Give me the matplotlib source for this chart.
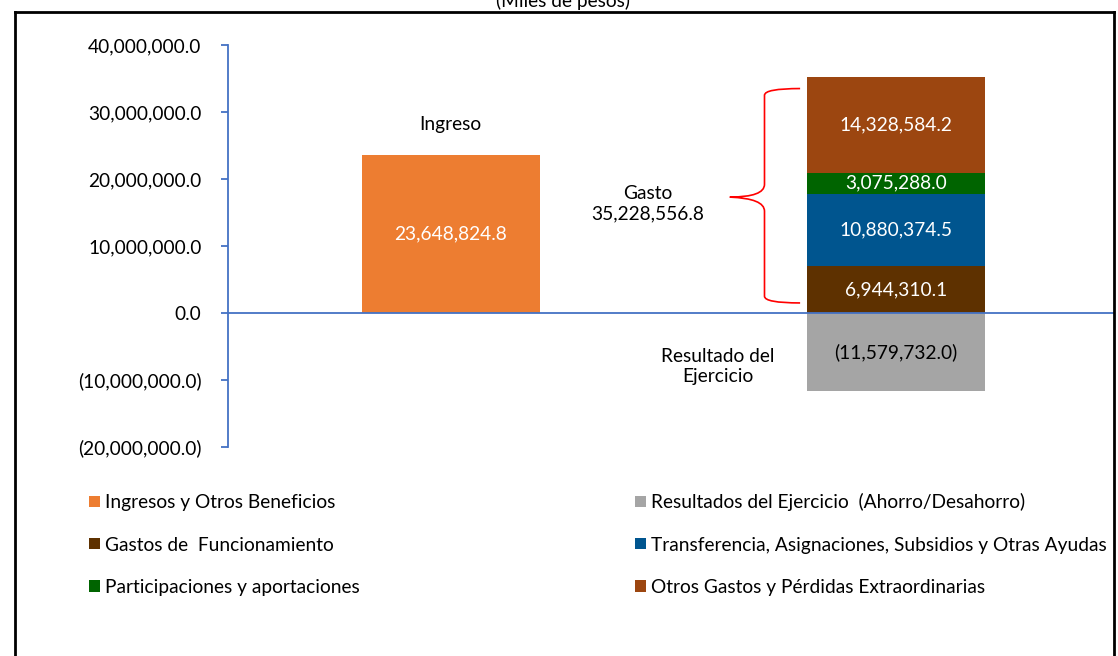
import numpy as np
import matplotlib
matplotlib.use("Agg")
import matplotlib.pyplot as plt
from matplotlib.path import Path
from matplotlib.patches import PathPatch
from matplotlib.lines import Line2D

plt.rcParams['font.family'] = ['Lato', 'DejaVu Sans']

# data (miles de pesos)
categorias = ["Ingreso", "Gasto"]
ingresos = [23648824.8, 0.0]
resultado = [0.0, -11579732.0]
gastos_funcionamiento = [0.0, 6944310.1]
transferencias = [0.0, 10880374.5]
participaciones = [0.0, 3075288.0]
otros_gastos = [0.0, 14328584.2]
total_gasto = 35228556.8

yticks = [-20e6, -10e6, 0, 10e6, 20e6, 30e6, 40e6]

c_ing = "#ED7D31"
c_res = "#A5A5A5"
c_fun = "#5E3100"
c_tra = "#00558F"
c_par = "#006400"
c_otr = "#9C4610"
c_axis = "#4472C4"

def fmt(v):
    s = "{:,.1f}".format(abs(v))
    return "(" + s + ")" if v < 0 else s

fig = plt.figure(figsize=(11.18, 6.56), dpi=100)
W, H = 1118, 656
ax = fig.add_axes([228 / W, 1 - 447 / H, (1114 - 228) / W, (447 - 45) / H])

x = np.arange(len(categorias))
w = 0.4
ax.bar(x, ingresos, w, color=c_ing, label="Ingresos y Otros Beneficios")
ax.bar(x, resultado, w, color=c_res, label="Resultados del Ejercicio  (Ahorro/Desahorro)")
b = np.zeros(2)
ax.bar(x, gastos_funcionamiento, w, bottom=b, color=c_fun, label="Gastos de  Funcionamiento")
b += gastos_funcionamiento
ax.bar(x, transferencias, w, bottom=b, color=c_tra,
       label="Transferencia, Asignaciones, Subsidios y Otras Ayudas")
b += transferencias
ax.bar(x, participaciones, w, bottom=b, color=c_par, label="Participaciones y aportaciones")
b += participaciones
ax.bar(x, otros_gastos, w, bottom=b, color=c_otr, label="Otros Gastos y Pérdidas Extraordinarias")

ax.set_xlim(-0.5, 1.49)
ax.set_ylim(-20e6, 40e6)
ax.set_yticks(yticks)
fs = 13.8
ax.set_yticklabels([fmt(t) for t in yticks], fontsize=fs)
ax.set_xticks([])
for s in ["top", "right", "bottom"]:
    ax.spines[s].set_visible(False)
ax.spines["left"].set_color(c_axis)
ax.spines["left"].set_linewidth(1.3)
ax.tick_params(axis="y", direction="out", length=5, color=c_axis, width=1.3, pad=14)
ax.axhline(0, color=c_axis, lw=1.3)

# value labels
ax.text(0, ingresos[0] / 2, fmt(ingresos[0]), color="white", ha="center", va="center", fontsize=fs)
ax.text(1, resultado[1] / 2, fmt(resultado[1]), color="black", ha="center", va="center", fontsize=fs)
bot = 0
for vals in [gastos_funcionamiento, transferencias, participaciones, otros_gastos]:
    v = vals[1]
    ax.text(1, bot + v / 2, fmt(v), color="white", ha="center", va="center", fontsize=fs)
    bot += v

ax.text(0, 28.1e6, "Ingreso", ha="center", va="center", fontsize=fs)
ax.text(0.443, 16.3e6, "Gasto\n" + fmt(total_gasto), ha="center", va="center",
        fontsize=fs, linespacing=1.2)
ax.text(0.6, -8e6, "Resultado del\nEjercicio", ha="center", va="center",
        fontsize=fs, linespacing=1.2)

# red brace
bx_tip, bx_mid, bx_end = 0.627, 0.705, 0.785
y_top, y_bot, y_mid = 33.5e6, 1.5e6, 17.2e6
verts = [(bx_end, y_top), (bx_mid, y_top), (bx_mid, y_top - 1e6), (bx_mid, y_top - 3e6),
         (bx_mid, y_mid + 2e6), (bx_mid, y_mid + 0.1e6), (bx_tip, y_mid + 0.1e6),
         (bx_mid, y_mid - 0.1e6), (bx_mid, y_mid - 2e6), (bx_mid, y_bot + 3e6),
         (bx_mid, y_bot + 1e6), (bx_mid, y_bot), (bx_end, y_bot)]
codes = [Path.MOVETO, Path.CURVE3, Path.CURVE3, Path.LINETO,
         Path.LINETO, Path.CURVE3, Path.CURVE3,
         Path.CURVE3, Path.CURVE3, Path.LINETO,
         Path.LINETO, Path.CURVE3, Path.CURVE3]
ax.add_patch(PathPatch(Path(verts, codes), fill=False, edgecolor="#FF0000", lw=1.2))

# legend in two columns
handles, labels = ax.get_legend_handles_labels()
order = [0, 2, 4, 1, 3, 5]
fig.legend([handles[i] for i in order], [labels[i] for i in order],
           loc="upper left", bbox_to_anchor=(74 / W, 1 - 478 / H), ncol=2,
           frameon=False, fontsize=fs, handlelength=0.55, handleheight=0.55,
           handletextpad=0.25, columnspacing=14.4, labelspacing=1.31,
           borderpad=0.3)

# frame and title
fig.add_artist(Line2D([15 / W, 15 / W], [0, 1 - 12 / H], color="black", lw=2))
fig.add_artist(Line2D([1114 / W, 1114 / W], [0, 1 - 12 / H], color="black", lw=2))
fig.add_artist(Line2D([15 / W, 1114 / W], [1 - 12 / H, 1 - 12 / H], color="black", lw=2))
fig.text(563 / W, 1 - 1 / H, "(Miles de pesos)", ha="center", va="center", fontsize=fs)

fig.savefig("out.png", dpi=100)
